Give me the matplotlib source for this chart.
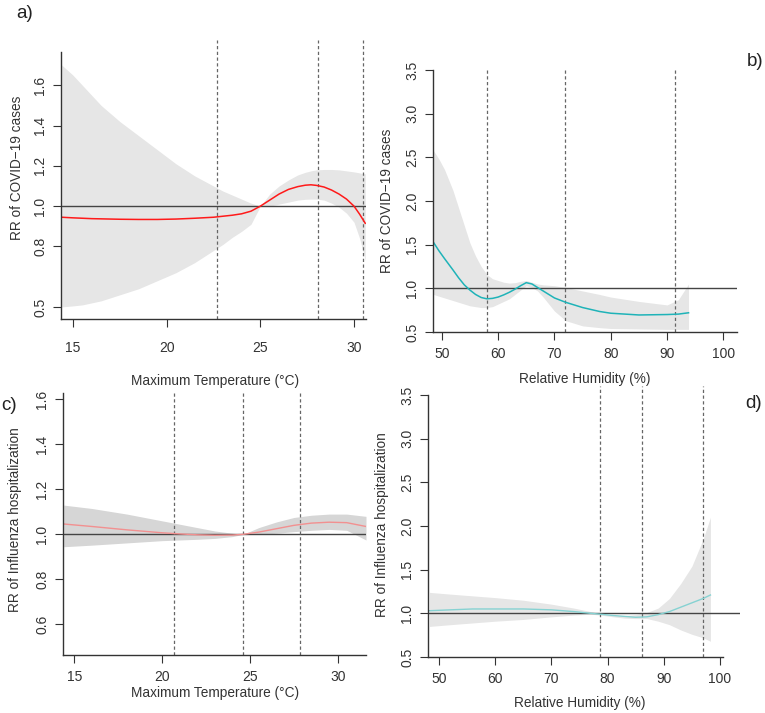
import numpy as np
import matplotlib
matplotlib.use("Agg")
from matplotlib import pyplot as plt

plt.rcParams['font.family'] = ['Liberation Sans Narrow', 'Liberation Sans', 'DejaVu Sans']

# a) COVID-19 vs maximum temperature
temp_a = [14.4, 15.0, 15.5, 16.0, 16.5, 17.0, 17.5, 18.5, 19.5, 20.5, 21.5, 22.5, 23.0,
          23.5, 24.0, 24.5, 25.0, 25.5, 26.0, 26.5, 27.0, 27.4, 27.7, 28.0, 28.4,
          28.8, 29.2, 29.6, 30.0, 30.3, 30.6]
rr_a = [0.945, 0.942, 0.940, 0.938, 0.937, 0.936, 0.935, 0.934, 0.934, 0.936, 0.94,
        0.945, 0.95, 0.955, 0.962, 0.975, 1.0, 1.03, 1.06, 1.083, 1.097, 1.104, 1.106,
        1.103, 1.095, 1.08, 1.06, 1.035, 1.0, 0.96, 0.915]
up_a = [1.70, 1.65, 1.60, 1.55, 1.50, 1.46, 1.42, 1.35, 1.28, 1.21, 1.15, 1.10, 1.075,
        1.055, 1.035, 1.015, 1.0, 1.06, 1.10, 1.13, 1.155, 1.168, 1.175, 1.18, 1.182,
        1.182, 1.18, 1.175, 1.17, 1.165, 1.16]
lo_a = [0.50, 0.505, 0.51, 0.52, 0.53, 0.545, 0.56, 0.59, 0.63, 0.67, 0.72, 0.78,
        0.81, 0.845, 0.875, 0.91, 1.0, 1.0, 1.01, 1.02, 1.03, 1.034, 1.035, 1.035, 1.03,
        1.015, 0.995, 0.965, 0.92, 0.84, 0.73]
cut_a = [22.7, 28.1, 30.5]

# b) COVID-19 vs relative humidity
rh_b = [48.5, 49.5, 50.5, 52, 53, 54, 55, 56, 57, 58, 59, 60, 61, 62, 63, 64, 65,
        66, 67, 68, 70, 72, 75, 78, 80, 85, 90, 92, 93.8]
rr_b = [1.53, 1.43, 1.34, 1.21, 1.12, 1.04, 0.98, 0.93, 0.895, 0.88, 0.885, 0.90,
        0.925, 0.955, 0.99, 1.03, 1.065, 1.05, 1.01, 0.97, 0.89, 0.84, 0.78, 0.735,
        0.715, 0.695, 0.70, 0.705, 0.72]
up_b = [2.58, 2.48, 2.36, 2.12, 1.92, 1.72, 1.52, 1.37, 1.25, 1.16, 1.11, 1.09, 1.07,
        1.06, 1.065, 1.08, 1.09, 1.07, 1.05, 1.04, 1.03, 1.01, 0.97, 0.93, 0.90, 0.85,
        0.81, 0.87, 1.05]
lo_b = [0.93, 0.91, 0.89, 0.86, 0.84, 0.82, 0.80, 0.79, 0.78, 0.78, 0.79, 0.82, 0.85,
        0.88, 0.93, 0.98, 1.03, 1.01, 0.97, 0.90, 0.74, 0.63, 0.57, 0.55, 0.54, 0.535,
        0.53, 0.53, 0.53]
cut_b = [58.0, 71.8, 91.4]

# c) Influenza vs maximum temperature
temp_c = [14.4, 16, 18, 20, 21, 22, 23, 24, 24.6, 25.5, 26.5, 27.5, 28.5, 29.5, 30.5, 31.6]
rr_c = [1.046, 1.035, 1.02, 1.007, 1.002, 0.998, 0.996, 0.997, 1.0, 1.01, 1.025, 1.04,
        1.05, 1.054, 1.052, 1.035]
up_c = [1.13, 1.115, 1.09, 1.06, 1.045, 1.03, 1.015, 1.005, 1.0, 1.03, 1.055, 1.075,
        1.085, 1.09, 1.09, 1.08]
lo_c = [0.945, 0.952, 0.962, 0.972, 0.975, 0.978, 0.982, 0.99, 1.0, 1.0, 1.005, 1.012,
        1.018, 1.022, 1.018, 0.975]
cut_c = [20.7, 24.6, 27.85]

# d) Influenza vs relative humidity
rh_d = [48.3, 52, 56, 60, 65, 70, 74, 77, 78.7, 81, 83, 85, 87, 89, 91, 93, 95, 97, 98.3]
rr_d = [1.03, 1.04, 1.05, 1.05, 1.05, 1.04, 1.02, 1.0, 0.99, 0.975, 0.965, 0.955,
        0.96, 0.985, 1.02, 1.07, 1.12, 1.17, 1.21]
up_d = [1.24, 1.22, 1.20, 1.18, 1.15, 1.105, 1.06, 1.02, 1.0, 0.98, 0.975, 0.985,
        1.01, 1.06, 1.17, 1.34, 1.54, 1.85, 2.1]
lo_d = [0.85, 0.87, 0.89, 0.91, 0.93, 0.96, 0.98, 0.99, 0.98, 0.96, 0.945, 0.94,
        0.94, 0.91, 0.87, 0.81, 0.76, 0.72, 0.68]
cut_d = [78.7, 86.1, 97.0]

W, H = 765, 713
fig = plt.figure(figsize=(W / 100, H / 100), dpi=100)


def rect(x0, y0, x1, y1):
    return [x0 / W, 1 - y1 / H, (x1 - x0) / W, (y1 - y0) / H]


def panel(r, x, rr, up, lo, cuts, xlim, ylim, yticks, xticks,
          line_col, band_col, line_w=1.1, xpad=5, cut_top=1.03, xspine=None):
    ax = fig.add_axes(rect(*r))
    ax.fill_between(x, lo, up, color=band_col, lw=0)
    ax.axhline(1.0, color='#444444', lw=1.0)
    for c in cuts:
        ax.axvline(c, ymin=0, ymax=cut_top, color='#666666', lw=0.9,
                   ls=(0, (2.6, 2.0)), clip_on=False)
    ax.plot(x, rr, color=line_col, lw=line_w)
    ax.set_xlim(*xlim)
    ax.set_ylim(*ylim)
    ax.set_xticks(xticks)
    ax.set_yticks(yticks)
    ax.set_yticklabels([f"{v:.1f}" for v in yticks])
    for s in ['top', 'right']:
        ax.spines[s].set_visible(False)
    for s in ['left', 'bottom']:
        ax.spines[s].set_color('#333333')
        ax.spines[s].set_linewidth(1.0)
    if xspine is not None:
        ax.spines['bottom'].set_bounds(*xspine)
    ax.tick_params(direction='out', length=6, width=0.8, color='#333333',
                   labelsize=10, labelcolor='#333333')
    ax.tick_params(axis='x', pad=xpad)
    ax.tick_params(axis='y', pad=4, labelrotation=90)
    for t in ax.get_yticklabels():
        t.set_va('center')
    return ax


panel((61, 52, 366, 319), temp_a, rr_a, up_a, lo_a, cut_a, (14.36, 30.64), (0.44, 1.765),
      [0.5, 0.8, 1.0, 1.2, 1.4, 1.6], [15, 20, 25, 30], '#ff1a1a', '#e6e6e6',
      xpad=10, cut_top=1.045)
panel((433, 70, 737, 332), rh_b, rr_b, up_b, lo_b, cut_b, (48.45, 102.4), (0.5, 3.5),
      [0.5, 1.0, 1.5, 2.0, 2.5, 3.0, 3.5], [50, 60, 70, 80, 90, 100], '#1fb3b8', '#e6e6e6',
      cut_top=1.0)
panel((63, 393, 366, 655), temp_c, rr_c, up_c, lo_c, cut_c, (14.36, 31.6), (0.464, 1.628),
      [0.6, 0.8, 1.0, 1.2, 1.4, 1.6], [15, 20, 25, 30], '#f29090', '#d6d6d6',
      line_w=1.0, cut_top=1.005)
panel((428, 395, 740, 657), rh_d, rr_d, up_d, lo_d, cut_d, (48.04, 103.56), (0.5, 3.5),
      [0.5, 1.0, 1.5, 2.0, 2.5, 3.0, 3.5], [50, 60, 70, 80, 90, 100], '#86d2d2', '#e6e6e6',
      line_w=1.0, cut_top=1.035, xspine=(48.04, 100.6))


def ftext(x, y, s, **kw):
    fig.text(x / W, 1 - y / H, s, ha='center', va='center', **kw)


lab = dict(fontsize=9.8, color='#333333')
ftext(17, 168, 'RR of COVID−19 cases', rotation=90, **lab)
ftext(387, 201, 'RR of COVID−19 cases', rotation=90, **lab)
ftext(15, 520, 'RR of Influenza hospitalization', rotation=90, **lab)
ftext(382, 525, 'RR of Influenza hospitalization', rotation=90, **lab)
ftext(215, 381, 'Maximum Temperature (°C)', **lab)
ftext(585, 379, 'Relative Humidity (%)', **lab)
ftext(215, 693, 'Maximum Temperature (°C)', **lab)
ftext(580, 703, 'Relative Humidity (%)', **lab)

let = dict(fontsize=13.5, color='#222222', family=['Liberation Sans', 'DejaVu Sans'])
ftext(25, 13, 'a)', **let)
ftext(755, 62, 'b)', **let)
ftext(9, 405, 'c)', **let)
ftext(754, 404, 'd)', **let)

fig.savefig('out.png', dpi=100)
